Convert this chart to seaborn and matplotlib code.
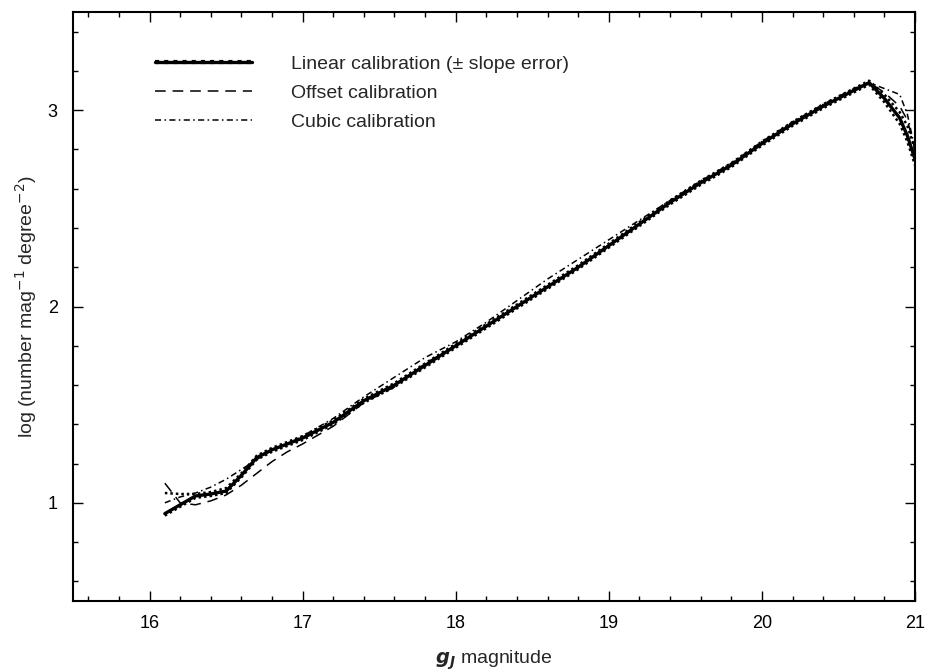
import matplotlib
matplotlib.use("Agg")
import matplotlib.pyplot as plt
from matplotlib.lines import Line2D
from matplotlib.ticker import MultipleLocator
import seaborn as sns
import pandas as pd

# ---- data ----
mag = [16.1, 16.2, 16.3, 16.4, 16.5, 16.6, 16.7, 16.8, 16.9, 17.0, 17.2, 17.4,
       17.6, 17.8, 18.0, 18.2, 18.4, 18.6, 18.8, 19.0, 19.2, 19.4, 19.6, 19.8,
       20.0, 20.2, 20.4, 20.6, 20.7, 20.8, 20.9, 20.95, 21.0]
linear = [0.945, 0.99, 1.035, 1.045, 1.06, 1.14, 1.23, 1.27, 1.30, 1.33, 1.41, 1.52,
          1.60, 1.70, 1.80, 1.90, 2.00, 2.10, 2.20, 2.31, 2.42, 2.53, 2.63, 2.72,
          2.83, 2.93, 3.02, 3.10, 3.14, 3.06, 2.96, 2.87, 2.75]
linear_hi = [1.05, 1.045, 1.045, 1.055, 1.075, 1.15, 1.24, 1.28, 1.31, 1.34, 1.42, 1.53,
             1.61, 1.71, 1.81, 1.91, 2.01, 2.11, 2.21, 2.32, 2.43, 2.54, 2.64, 2.73,
             2.84, 2.94, 3.03, 3.11, 3.15, 3.08, 2.99, 2.92, 2.80]
linear_lo = [0.935, 0.98, 1.025, 1.035, 1.05, 1.13, 1.22, 1.26, 1.29, 1.32, 1.40, 1.51,
             1.59, 1.69, 1.79, 1.89, 1.99, 2.09, 2.19, 2.30, 2.41, 2.52, 2.62, 2.71,
             2.82, 2.92, 3.01, 3.09, 3.13, 3.04, 2.93, 2.84, 2.72]
offset = [1.10, 1.00, 0.99, 1.01, 1.04, 1.09, 1.15, 1.21, 1.26, 1.30, 1.39, 1.51,
          1.59, 1.71, 1.80, 1.90, 2.00, 2.10, 2.20, 2.31, 2.42, 2.53, 2.63, 2.72,
          2.83, 2.93, 3.02, 3.10, 3.14, 3.09, 3.02, 2.95, 2.80]
cubic = [1.00, 1.03, 1.05, 1.08, 1.12, 1.17, 1.22, 1.27, 1.30, 1.34, 1.43, 1.54,
         1.64, 1.74, 1.82, 1.92, 2.03, 2.14, 2.24, 2.34, 2.44, 2.54, 2.64, 2.73,
         2.84, 2.94, 3.03, 3.11, 3.14, 3.11, 3.08, 2.98, 2.80]

labels = ["Linear calibration (\u00b1 slope error)", "Offset calibration", "Cubic calibration"]
x_ticks = [16, 17, 18, 19, 20, 21]
y_ticks = [1, 2, 3]

df = pd.DataFrame({"mag": mag, "linear": linear, "linear_hi": linear_hi,
                   "linear_lo": linear_lo, "offset": offset, "cubic": cubic})

sns.set_theme(style="ticks")
plt.rcParams["font.family"] = ["Liberation Sans", "DejaVu Sans"]

fig = plt.figure(figsize=(9.28, 6.71), dpi=100)
ax = fig.add_axes([73 / 928, 1 - 601 / 671, (915 - 73) / 928, (601 - 12) / 671])

dash_off = (7, 4.5)
dash_cub = (4, 2.2, 1, 2.2)

sns.lineplot(data=df, x="mag", y="linear_hi", ax=ax, color="black", lw=1.8,
             linestyle=(0, (1, 1.2)), sort=False)
sns.lineplot(data=df, x="mag", y="linear_lo", ax=ax, color="black", lw=1.8,
             linestyle=(0, (1, 1.2)), sort=False)
sns.lineplot(data=df, x="mag", y="linear", ax=ax, color="black", lw=2.4, sort=False)
sns.lineplot(data=df, x="mag", y="offset", ax=ax, color="black", lw=1.1,
             linestyle=(0, dash_off), sort=False)
sns.lineplot(data=df, x="mag", y="cubic", ax=ax, color="black", lw=1.1,
             linestyle=(0, dash_cub), sort=False)

ax.set_xlim(15.5, 21)
ax.set_ylim(0.5, 3.5)
ax.set_xticks(x_ticks)
ax.set_yticks(y_ticks)
ax.xaxis.set_minor_locator(MultipleLocator(0.2))
ax.yaxis.set_minor_locator(MultipleLocator(0.2))
ax.tick_params(which="both", direction="in", top=True, right=True, colors="black",
               labelsize=13)
ax.tick_params(which="major", length=7, width=1.0)
ax.tick_params(which="minor", length=3.5, width=1.0)
ax.tick_params(axis="x", which="major", pad=10)
ax.tick_params(axis="y", which="major", pad=11)
for sp in ax.spines.values():
    sp.set_visible(True)
    sp.set_linewidth(1.5)
    sp.set_color("black")

ax.set_xlabel(r"$\mathbfit{g}_{\mathbfit{J}}$ magnitude", fontsize=14, labelpad=12)
ax.set_ylabel(r"log (number mag$^{-1}$ degree$^{-2}$)", fontsize=14, labelpad=6)

h_lin = (Line2D([], [], color="black", lw=2.4),
         Line2D([], [], color="black", lw=3.0, linestyle=(0, (1, 1.2)), marker=None))
h_off = Line2D([], [], color="black", lw=1.1, linestyle=(0, dash_off))
h_cub = Line2D([], [], color="black", lw=1.1, linestyle=(0, dash_cub))
ax.legend([h_lin, h_off, h_cub], labels, loc="upper left",
          bbox_to_anchor=((155 - 73) / 842, (601 - 55) / 589),
          frameon=False, fontsize=14, handlelength=5.0, handletextpad=2.0,
          labelspacing=0.6, borderpad=0, borderaxespad=0)

fig.savefig("out.png", dpi=100)
